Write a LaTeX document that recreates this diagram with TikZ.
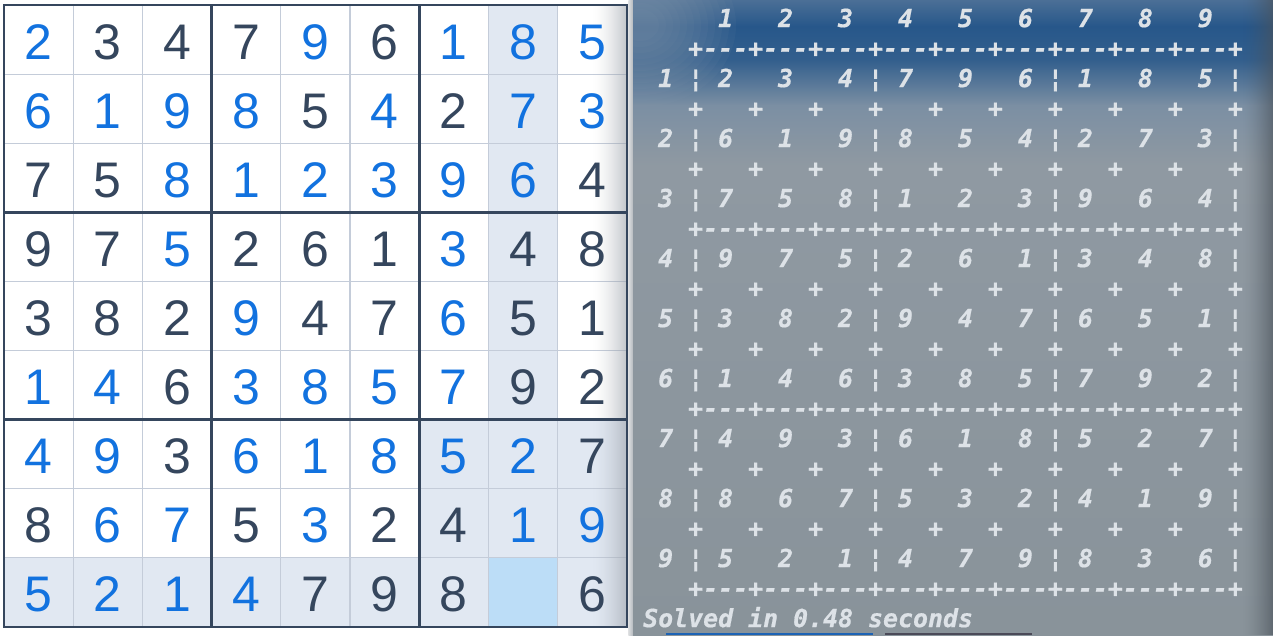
\documentclass[tikz,border=0pt]{standalone}
\usepackage{fontspec}
\setmainfont{Liberation Sans}
\setmonofont{DejaVu Sans Mono}[BoldItalicFont={DejaVu Sans Mono Bold Oblique}, BoldItalicFeatures={FakeBold=0.6}]
\definecolor{cb}{HTML}{1272DF}
\definecolor{cd}{HTML}{35465D}
\definecolor{cn}{HTML}{BCDDF7}
\definecolor{thinc}{HTML}{C4CCD9}
\definecolor{hlc}{HTML}{E1E8F2}
\definecolor{selc}{HTML}{BCDDF7}
\definecolor{termtxt}{HTML}{DDE2E7}
\definecolor{tA}{HTML}{4B6F96}
\definecolor{tB}{HTML}{27578A}
\definecolor{tC}{HTML}{335F8D}
\definecolor{tD}{HTML}{7B8FA3}
\definecolor{tE}{HTML}{8F99A2}
\definecolor{tF}{HTML}{89939A}
\definecolor{blobc}{HTML}{8A9CB0}
\definecolor{rshadow}{HTML}{4A525A}
\definecolor{gshadow}{HTML}{9AA0A8}
\definecolor{stripL}{HTML}{DCDEE0}
\definecolor{stripR}{HTML}{B4B9BE}
\definecolor{barblue}{HTML}{1D63B5}
\definecolor{bardark}{HTML}{4B4A58}
\tikzset{
  digit/.style={font=\fontsize{50}{50}\selectfont, inner sep=0pt, anchor=base},
  termline/.style={font=\ttfamily\bfseries\itshape\fontsize{24.9}{30}\selectfont, text=termtxt, inner sep=0pt, anchor=base west},
  thinline/.style={draw=thinc, line width=1.2pt},
  thickline/.style={draw=cd, line width=2.6pt},
}
\begin{document}
\begin{tikzpicture}[x=1pt,y=-1pt]
\useasboundingbox (0,0) rectangle (1273,635);
% ---------- left: sudoku board ----------
\fill[white] (0,0) rectangle (628,635);
\fill[hlc] (488.4,5) rectangle (557.6,627);
\fill[hlc] (419.2,419.6) rectangle (627,627);
\fill[hlc] (4,557.8) rectangle (627,627);
\fill[selc] (488.4,557.8) rectangle (557.6,627);
\foreach \i in {1,2,4,5,7,8} {
  \draw[thinline] ({4+69.2*\i},5) -- ({4+69.2*\i},627);
  \draw[thinline] (4,{5+69.1*\i}) -- (627,{5+69.1*\i});
}
% soft shadow on the right side of the board
\foreach \k in {1,...,34} {
  \fill[gshadow, fill opacity={0.58*(\k/34)^1.6}] ({592+\k},4) rectangle ({593+\k},628);
}
\foreach \i in {3,6} {
  \draw[thickline] ({4+69.2*\i},5) -- ({4+69.2*\i},627);
  \draw[thickline] (4,{5+69.1*\i}) -- (627,{5+69.1*\i});
}
\draw[thickline, line join=miter] (4,5) rectangle (627,627);
\foreach \rowlist [count=\r] in {
  {2/b,3/d,4/d,7/d,9/b,6/d,1/b,8/b,5/b},
  {6/b,1/b,9/b,8/b,5/d,4/b,2/d,7/b,3/b},
  {7/d,5/d,8/b,1/b,2/b,3/b,9/b,6/b,4/d},
  {9/d,7/d,5/b,2/d,6/d,1/d,3/b,4/d,8/d},
  {3/d,8/d,2/d,9/b,4/d,7/d,6/b,5/d,1/d},
  {1/b,4/b,6/d,3/b,8/b,5/b,7/b,9/d,2/d},
  {4/b,9/b,3/d,6/b,1/b,8/b,5/b,2/b,7/d},
  {8/d,6/b,7/b,5/d,3/b,2/d,4/d,1/b,9/b},
  {5/b,2/b,1/b,4/b,7/d,9/d,8/d,{}/n,6/d}} {
  \foreach \v/\k [count=\c] in \rowlist {
    \node[digit, text=c\k] (d-\r-\c) at ({4+69.2*(\c-0.5)},{5+69.1*(\r-0.5)+19.5}) {\v};
  }
}
% ---------- gap strip ----------
\shade[left color=stripL, right color=stripR] (628.3,0) rectangle (633,635);
% ---------- right: terminal ----------
\shade[top color=tA, bottom color=tB] (633,0) rectangle (1273,26.5);
\shade[top color=tB, bottom color=tC] (633,26) rectangle (1273,60.5);
\shade[top color=tC, bottom color=tD] (633,60) rectangle (1273,105.5);
\shade[top color=tD, bottom color=tE] (633,105) rectangle (1273,165.5);
\shade[top color=tE, bottom color=tF] (633,165) rectangle (1273,635);
\begin{scope}
  \clip (633,0) rectangle (1273,635);
  \foreach \k in {1,...,12} {
    \fill[blobc, fill opacity=0.07] (640,25) ellipse [x radius={12+7*\k}, y radius={10+6*\k}];
  }
\end{scope}
\foreach \k in {1,...,30} {
  \fill[rshadow, fill opacity={0.62*(\k/30)^1.5}] ({1242+\k},0) rectangle ({1243+\k},635);
}
\fill[barblue] (666,633) rectangle (873,635);
\fill[bardark] (885,633) rectangle (1032,635);
\node[termline] (t0)  at (643,{27.1+30*0})  {~~~~~1~~~2~~~3~~~4~~~5~~~6~~~7~~~8~~~9};
\node[termline] (t1)  at (643,{27.1+30*1})  {~~~+---+---+---+---+---+---+---+---+---+};
\node[termline] (t2)  at (643,{27.1+30*2})  {~1~¦~2~~~3~~~4~¦~7~~~9~~~6~¦~1~~~8~~~5~¦};
\node[termline] (t3)  at (643,{27.1+30*3})  {~~~+~~~+~~~+~~~+~~~+~~~+~~~+~~~+~~~+~~~+};
\node[termline] (t4)  at (643,{27.1+30*4})  {~2~¦~6~~~1~~~9~¦~8~~~5~~~4~¦~2~~~7~~~3~¦};
\node[termline] (t5)  at (643,{27.1+30*5})  {~~~+~~~+~~~+~~~+~~~+~~~+~~~+~~~+~~~+~~~+};
\node[termline] (t6)  at (643,{27.1+30*6})  {~3~¦~7~~~5~~~8~¦~1~~~2~~~3~¦~9~~~6~~~4~¦};
\node[termline] (t7)  at (643,{27.1+30*7})  {~~~+---+---+---+---+---+---+---+---+---+};
\node[termline] (t8)  at (643,{27.1+30*8})  {~4~¦~9~~~7~~~5~¦~2~~~6~~~1~¦~3~~~4~~~8~¦};
\node[termline] (t9)  at (643,{27.1+30*9})  {~~~+~~~+~~~+~~~+~~~+~~~+~~~+~~~+~~~+~~~+};
\node[termline] (t10) at (643,{27.1+30*10}) {~5~¦~3~~~8~~~2~¦~9~~~4~~~7~¦~6~~~5~~~1~¦};
\node[termline] (t11) at (643,{27.1+30*11}) {~~~+~~~+~~~+~~~+~~~+~~~+~~~+~~~+~~~+~~~+};
\node[termline] (t12) at (643,{27.1+30*12}) {~6~¦~1~~~4~~~6~¦~3~~~8~~~5~¦~7~~~9~~~2~¦};
\node[termline] (t13) at (643,{27.1+30*13}) {~~~+---+---+---+---+---+---+---+---+---+};
\node[termline] (t14) at (643,{27.1+30*14}) {~7~¦~4~~~9~~~3~¦~6~~~1~~~8~¦~5~~~2~~~7~¦};
\node[termline] (t15) at (643,{27.1+30*15}) {~~~+~~~+~~~+~~~+~~~+~~~+~~~+~~~+~~~+~~~+};
\node[termline] (t16) at (643,{27.1+30*16}) {~8~¦~8~~~6~~~7~¦~5~~~3~~~2~¦~4~~~1~~~9~¦};
\node[termline] (t17) at (643,{27.1+30*17}) {~~~+~~~+~~~+~~~+~~~+~~~+~~~+~~~+~~~+~~~+};
\node[termline] (t18) at (643,{27.1+30*18}) {~9~¦~5~~~2~~~1~¦~4~~~7~~~9~¦~8~~~3~~~6~¦};
\node[termline] (t19) at (643,{27.1+30*19}) {~~~+---+---+---+---+---+---+---+---+---+};
\node[termline] (t20) at (643,{27.1+30*20}) {Solved~in~0.48~seconds};
\end{tikzpicture}
\end{document}
